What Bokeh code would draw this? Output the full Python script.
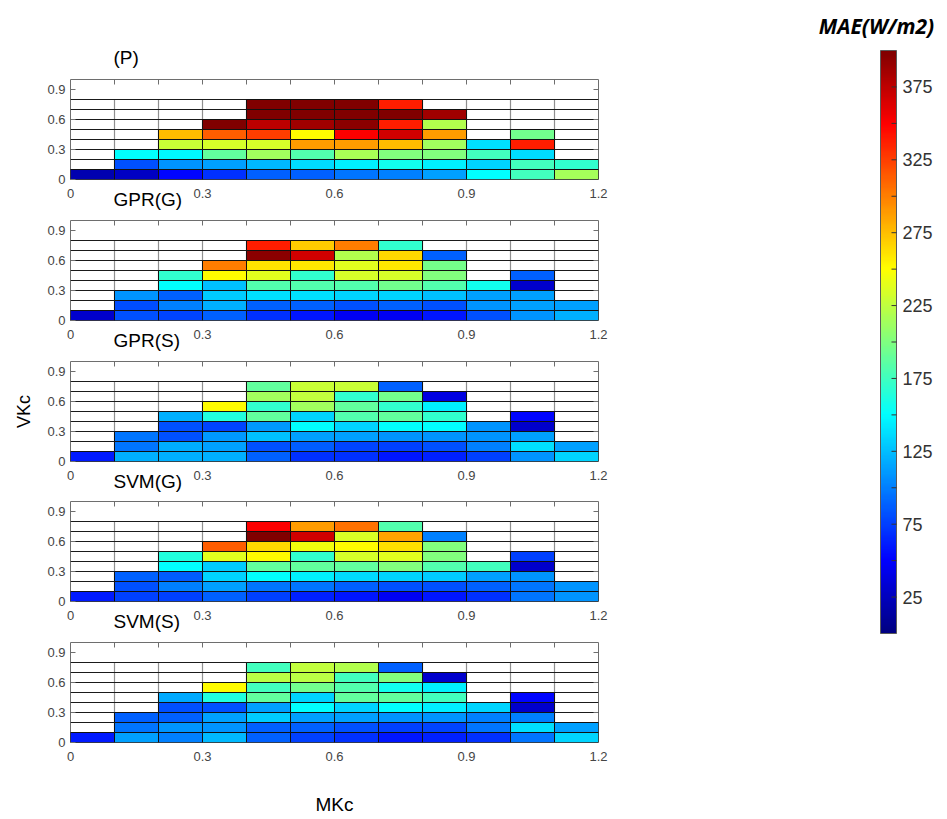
import numpy as np
from bokeh.plotting import figure
from bokeh.models import Range1d, FixedTicker, LinearColorMapper, Title, ColumnDataSource
from bokeh.layouts import column, row
from bokeh.transform import linear_cmap
from bokeh.core.properties import value
from bokeh.embed import file_html
from bokeh.resources import INLINE

# ---------------- data ----------------
mkc_edges = [0.0, 0.1, 0.2, 0.3, 0.4, 0.5, 0.6, 0.7, 0.8, 0.9, 1.0, 1.1, 1.2]
vkc_edges = [0.0, 0.1, 0.2, 0.3, 0.4, 0.5, 0.6, 0.7, 0.8]
x_ticks = [0, 0.3, 0.6, 0.9, 1.2]
x_tick_labels = ["0", "0.3", "0.6", "0.9", "1.2"]
y_ticks = [0, 0.3, 0.6, 0.9]
y_tick_labels = ["0", "0.3", "0.6", "0.9"]
cb_label_values = [25, 75, 125, 175, 225, 275, 325, 375]
cb_tick_values = [25, 50, 75, 100, 125, 150, 175, 200, 225, 250, 275, 300, 325, 350, 375]
mae_low, mae_high = 0, 400

panel_titles = ["(P)", "GPR(G)", "GPR(S)", "SVM(G)", "SVM(S)"]

# MAE per MKc column (0-0.1 ... 1.1-1.2), listed from VKc=0 upward
mae_P = [
    [20],
    [28, 82, 151],
    [52, 108, 148, 229, 276],
    [70, 113, 189, 233, 313, 400],
    [89, 123, 213, 233, 325, 375, 400, 400],
    [89, 136, 182, 289, 251, 387, 400, 400],
    [96, 145, 217, 289, 350, 394, 400, 400],
    [101, 157, 201, 276, 368, 338, 400, 338],
    [113, 145, 201, 213, 289, 220, 387],
    [151, 133, 176, 139],
    [176, 176, 136, 338, 195],
    [215, 169],
]
mae_GPR_G = [
    [30],
    [82, 80, 108],
    [78, 101, 89, 151, 169],
    [89, 120, 130, 126, 251, 300],
    [70, 89, 139, 182, 239, 260, 394, 338],
    [58, 89, 139, 182, 169, 258, 368, 269],
    [46, 82, 133, 182, 233, 239, 220, 300],
    [46, 89, 133, 195, 233, 258, 265, 169],
    [58, 82, 126, 182, 201, 196, 89],
    [82, 108, 113, 157],
    [108, 113, 113, 30, 89],
    [120, 113],
]
mae_GPR_S = [
    [60],
    [120, 96, 96],
    [120, 118, 82, 82, 120],
    [120, 113, 110, 78, 164, 251],
    [89, 82, 126, 110, 189, 169, 213, 189],
    [70, 86, 113, 151, 133, 213, 225, 229],
    [70, 78, 113, 133, 182, 189, 169, 229],
    [58, 76, 108, 151, 189, 169, 195, 89],
    [64, 82, 108, 151, 169, 145, 38],
    [76, 101, 108, 108],
    [108, 139, 113, 30, 52],
    [133, 113],
]
mae_SVM_G = [
    [60],
    [76, 82, 89],
    [76, 101, 86, 151, 164],
    [89, 113, 133, 130, 239, 313],
    [76, 96, 151, 189, 251, 265, 400, 350],
    [64, 96, 145, 189, 169, 245, 368, 289],
    [58, 89, 136, 189, 233, 251, 235, 306],
    [46, 82, 133, 201, 239, 262, 285, 182],
    [58, 82, 130, 182, 201, 201, 101],
    [70, 89, 113, 176],
    [96, 96, 108, 30, 76],
    [108, 108],
]
mae_SVM_S = [
    [60],
    [113, 96, 89],
    [101, 108, 89, 82, 116],
    [123, 108, 113, 82, 164, 251],
    [89, 89, 130, 113, 189, 176, 223, 176],
    [76, 89, 113, 151, 133, 195, 223, 225],
    [70, 82, 113, 133, 189, 182, 176, 220],
    [58, 76, 108, 151, 189, 157, 201, 89],
    [64, 78, 108, 145, 176, 145, 30],
    [70, 96, 101, 133],
    [96, 139, 101, 30, 52],
    [133, 113],
]
panels = [mae_P, mae_GPR_G, mae_GPR_S, mae_SVM_G, mae_SVM_S]

# ---------------- style / layout ----------------
def jet(n=256):
    out = []
    for i in range(n):
        t = i / (n - 1)
        r = min(max(1.5 - abs(4 * t - 3), 0), 1)
        g = min(max(1.5 - abs(4 * t - 2), 0), 1)
        b = min(max(1.5 - abs(4 * t - 1), 0), 1)
        out.append("#%02x%02x%02x" % (int(round(r * 255)), int(round(g * 255)), int(round(b * 255))))
    return out

JET = jet()
mapper = LinearColorMapper(palette=JET, low=mae_low, high=mae_high)

FONT = "Liberation Sans"
FRAME_H = 100
LEFT_B, RIGHT_B = 70, 202
FIG_W = LEFT_B + 528 + RIGHT_B
tops = [79, 4, 4, 4, 4]
bottoms = [37, 37, 36, 37, 75]
TITLE_OFFSET = 43


def make_panel(i):
    cols = panels[i]
    p = figure(width=FIG_W, height=tops[i] + FRAME_H + bottoms[i],
               x_range=Range1d(mkc_edges[0], mkc_edges[-1]), y_range=Range1d(0, 1.0),
               output_backend="svg", toolbar_location=None,
               min_border_left=LEFT_B, min_border_right=RIGHT_B,
               min_border_top=tops[i], min_border_bottom=bottoms[i])
    p.background_fill_color = "white"
    p.border_fill_color = "white"
    p.outline_line_color = "#6e6e6e"
    p.outline_line_width = 1
    p.xgrid.visible = False
    p.ygrid.visible = False

    # grid of cells
    p.segment(x0=mkc_edges[1:-1], x1=mkc_edges[1:-1], y0=[vkc_edges[0]] * 11, y1=[vkc_edges[-1]] * 11,
              line_color="#8f8f8f", line_width=1.2)
    nh = len(vkc_edges) - 1
    p.segment(x0=[mkc_edges[0]] * nh, x1=[mkc_edges[-1]] * nh, y0=vkc_edges[1:], y1=vkc_edges[1:],
              line_color="#1a1a1a", line_width=1)

    L, R, B, T, V = [], [], [], [], []
    for c, colvals in enumerate(cols):
        for r, v in enumerate(colvals):
            L.append(mkc_edges[c]); R.append(mkc_edges[c + 1])
            B.append(vkc_edges[r]); T.append(vkc_edges[r + 1]); V.append(v)
    src = ColumnDataSource(dict(left=L, right=R, bottom=B, top=T, mae=V))
    p.quad(left="left", right="right", bottom="bottom", top="top", source=src,
           fill_color=linear_cmap("mae", JET, mae_low, mae_high),
           line_color="#111111", line_width=1)

    # inward box ticks (top and right)
    top_t = mkc_edges[1:-1]
    p.segment(x0=top_t, x1=top_t, y0=[1.0] * len(top_t), y1=[0.95] * len(top_t),
              line_color="#6e6e6e", line_width=1)
    p.segment(x0=[1.2] * 3, x1=[1.2 - 5 / 440] * 3, y0=y_ticks[1:], y1=y_ticks[1:],
              line_color="#6e6e6e", line_width=1)

    # axes
    p.xaxis.ticker = FixedTicker(ticks=x_ticks)
    p.xaxis.major_label_overrides = dict(zip(x_ticks, x_tick_labels))
    p.xaxis.major_tick_in = 0
    p.xaxis.major_tick_out = 0
    p.xaxis.minor_tick_line_color = None
    p.xaxis.axis_line_color = None
    p.xaxis.major_label_standoff = 9

    p.yaxis.ticker = FixedTicker(ticks=y_ticks)
    p.yaxis.major_label_overrides = dict(zip(y_ticks, y_tick_labels))
    p.yaxis.major_tick_in = 5
    p.yaxis.major_tick_out = 0
    p.yaxis.major_tick_line_color = "#6e6e6e"
    p.yaxis.minor_tick_line_color = None
    p.yaxis.axis_line_color = None
    p.yaxis.major_label_standoff = 5

    for ax in (p.xaxis, p.yaxis):
        ax.major_label_text_font = FONT
        ax.major_label_text_font_size = "13px"
        ax.major_label_text_color = "#454545"
        ax.axis_label_text_font = FONT
        ax.axis_label_text_font_style = "normal"
        ax.axis_label_text_color = "black"

    if i == 0:
        p.title.text = panel_titles[0]
        p.title.align = "left"
        p.title.offset = TITLE_OFFSET
        p.title.text_font = FONT
        p.title.text_font_size = "19px"
        p.title.text_font_style = "normal"
        p.title.text_color = "black"
        p.title.standoff = 24
    if i + 1 < len(panels):
        p.add_layout(Title(text=panel_titles[i + 1], align="left", offset=TITLE_OFFSET,
                           vertical_align="top",
                           text_font=FONT, text_font_size="19px", text_font_style="normal",
                           text_color="black", standoff=-24), "below")
    if i == 2:
        p.yaxis.axis_label = "VKc"
        p.yaxis.axis_label_text_font_size = "18px"
        p.yaxis.axis_label_standoff = 10
    if i == 4:
        p.xaxis.axis_label = "MKc"
        p.xaxis.axis_label_text_font_size = "19px"
        p.xaxis.axis_label_standoff = 30
    return p


figs = [make_panel(i) for i in range(len(panels))]

# ---------------- colour bar ----------------
TOTAL_H = sum(tops) + sum(bottoms) + FRAME_H * 5
CB_FIG_X0 = FIG_W
CB_W_FIG = 139
CB_LEFT, CB_RIGHT = 880, 896
CB_TOP_PX, CB_BOT_PX = 50, 633
px_per = (CB_BOT_PX - CB_TOP_PX) / (mae_high - mae_low)
y_hi = mae_high + CB_TOP_PX / px_per
y_lo = mae_low - (TOTAL_H - CB_BOT_PX) / px_per

cb = figure(width=CB_W_FIG, height=TOTAL_H, x_range=Range1d(CB_FIG_X0, CB_FIG_X0 + CB_W_FIG),
            y_range=Range1d(y_lo, y_hi), output_backend="svg", toolbar_location=None,
            x_axis_type=None, y_axis_type=None,
            min_border_left=0, min_border_right=0, min_border_top=0, min_border_bottom=0)
cb.outline_line_color = None
cb.background_fill_color = "white"
cb.border_fill_color = "white"
cb.xgrid.visible = False
cb.ygrid.visible = False

grad = np.linspace(mae_low, mae_high, 256).reshape(-1, 1)
cb.image(image=[grad], x=CB_LEFT, y=mae_low, dw=CB_RIGHT - CB_LEFT, dh=mae_high - mae_low,
         color_mapper=mapper)
cb.quad(left=[CB_LEFT], right=[CB_RIGHT], bottom=[mae_low], top=[mae_high],
        fill_color=None, line_color="#5a5a5a", line_width=1)
cb.segment(x0=[CB_RIGHT - 5] * len(cb_tick_values), x1=[CB_RIGHT] * len(cb_tick_values),
           y0=cb_tick_values, y1=cb_tick_values, line_color="#333333", line_width=1)
cb.text(x=[CB_RIGHT + 6] * len(cb_label_values), y=cb_label_values,
        text=[str(v) for v in cb_label_values], text_font=value(FONT), text_font_size="18px",
        text_color="#333333", text_align="left", text_baseline="middle")
cb.text(x=[876], y=[mae_high + (CB_TOP_PX - 25) / px_per], text=["MAE(W/m2)"],
        text_font=value("Open Sans"), text_font_style="bold italic", text_font_size="21px",
        text_color="black", text_align="center", text_baseline="middle")

layout = row(column(*figs, spacing=0), cb, spacing=0)
open("out.html", "w").write(file_html(layout, INLINE))
